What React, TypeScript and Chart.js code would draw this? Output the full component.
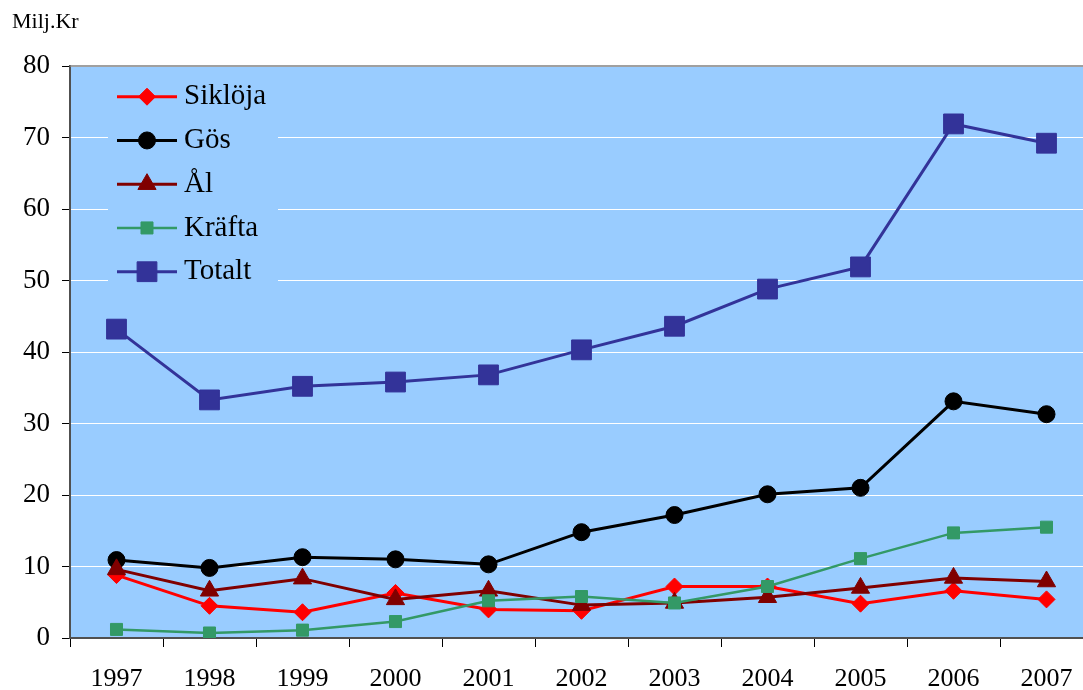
import React, { useEffect, useRef } from 'react';
import { Chart, registerables } from 'chart.js';
import { drawPoint } from 'chart.js/helpers';

Chart.register(...registerables);

const years = ['1997', '1998', '1999', '2000', '2001', '2002', '2003', '2004', '2005', '2006', '2007'];
const sikloja = [8.8, 4.5, 3.6, 6.3, 4.0, 3.8, 7.2, 7.2, 4.8, 6.6, 5.4];
const gos = [10.9, 9.8, 11.3, 11.0, 10.3, 14.8, 17.2, 20.1, 21.0, 33.1, 31.3];
const al = [9.6, 6.6, 8.3, 5.4, 6.6, 4.6, 4.9, 5.7, 7.0, 8.4, 7.9];
const kraefta = [1.2, 0.7, 1.1, 2.3, 5.2, 5.8, 4.9, 7.2, 11.1, 14.7, 15.5];
const totalt = [43.2, 33.3, 35.2, 35.8, 36.8, 40.3, 43.6, 48.8, 51.9, 71.9, 69.2];
const yMin = 0;
const yMax = 80;
const yStep = 10;
const yUnit = 'Milj.Kr';

const FONT = "'Liberation Serif', 'Times New Roman', serif";
const PLOT_BG = '#99CCFF';
const AXIS = '#505050';

const customPlugin = {
  id: 'customDecor',
  beforeDraw(chart: any) {
    const { ctx, chartArea } = chart;
    ctx.save();
    ctx.fillStyle = PLOT_BG;
    ctx.fillRect(chartArea.left, chartArea.top, chartArea.right - chartArea.left, chartArea.bottom - chartArea.top);
    ctx.restore();
  },
  afterDraw(chart: any) {
    const { ctx, chartArea } = chart;
    ctx.save();
    ctx.strokeStyle = '#808080';
    ctx.lineWidth = 1.5;
    ctx.beginPath();
    ctx.moveTo(chartArea.left, chartArea.top);
    ctx.lineTo(chartArea.right, chartArea.top);
    ctx.stroke();

    ctx.fillStyle = '#000';
    ctx.font = `22px ${FONT}`;
    ctx.textAlign = 'left';
    ctx.textBaseline = 'alphabetic';
    ctx.fillText(yUnit, 12, 28);

    ctx.fillStyle = PLOT_BG;
    ctx.fillRect(108, 74, 170, 218);
    const order = [...chart.data.datasets].sort((a: any, b: any) => b.order - a.order);
    order.forEach((ds: any, i: number) => {
      const y = 96.7 + i * 43.75;
      ctx.strokeStyle = ds.borderColor;
      ctx.lineWidth = ds.borderWidth;
      ctx.beginPath();
      ctx.moveTo(117, y);
      ctx.lineTo(177, y);
      ctx.stroke();
      ctx.fillStyle = ds.pointBackgroundColor;
      ctx.strokeStyle = ds.pointBorderColor;
      ctx.lineWidth = ds.pointBorderWidth;
      drawPoint(ctx, { pointStyle: ds.pointStyle, rotation: 0, radius: ds.pointRadius, borderWidth: ds.pointBorderWidth }, 147, y);
      ctx.fillStyle = '#000';
      ctx.font = `29px ${FONT}`;
      ctx.textAlign = 'left';
      ctx.textBaseline = 'middle';
      ctx.fillText(ds.label, 184, y);
    });
    ctx.restore();
  },
};

function mk(label: string, data: number[], color: string, style: string, radius: number, width: number, order: number) {
  return {
    label,
    data,
    borderColor: color,
    backgroundColor: color,
    pointBackgroundColor: color,
    pointBorderColor: color,
    pointBorderWidth: 1,
    pointStyle: style,
    pointRadius: radius,
    borderWidth: width,
    tension: 0,
    order,
  };
}

export default function App() {
  const ref = useRef<HTMLCanvasElement>(null);
  useEffect(() => {
    document.documentElement.style.overflow = 'hidden';
    document.body.style.overflow = 'hidden';
    document.body.style.margin = '0';
    const chart = new Chart(ref.current as HTMLCanvasElement, {
      type: 'line',
      data: {
        labels: years,
        datasets: [
          mk('Siklöja', sikloja, '#FF0000', 'rectRot', 8.5, 3, 4),
          mk('Gös', gos, '#000000', 'circle', 8.5, 3, 3),
          mk('Ål', al, '#800000', 'triangle', 10.5, 3, 2),
          mk('Kräfta', kraefta, '#339966', 'rect', 8.5, 2.5, 1),
          mk('Totalt', totalt, '#333399', 'rect', 14, 3, 0),
        ],
      },
      options: {
        responsive: false,
        animation: false,
        layout: { padding: { top: 66, right: 17, left: 0, bottom: 0 } },
        plugins: { legend: { display: false }, tooltip: { enabled: false }, title: { display: false } },
        scales: {
          x: {
            type: 'category',
            offset: true,
            grid: { display: true, offset: true, drawOnChartArea: false, drawTicks: true, tickLength: 9, color: '#000', lineWidth: 1 },
            border: { display: true, color: AXIS, width: 2 },
            ticks: { font: { family: FONT, size: 26 }, color: '#000', padding: 17, maxRotation: 0, autoSkip: false },
            afterFit: (s: any) => { s.height = 52; },
          },
          y: {
            min: yMin,
            max: yMax,
            ticks: { stepSize: yStep, font: { family: FONT, size: 27 }, color: '#000', padding: 12 },
            grid: { color: '#FFFFFF', lineWidth: 1, tickColor: '#000', tickWidth: 1, tickLength: 8, drawTicks: true },
            border: { display: true, color: AXIS, width: 2 },
            afterFit: (s: any) => { s.width = 70; },
          },
        },
      } as any,
      plugins: [customPlugin],
    });
    return () => chart.destroy();
  }, []);
  return (
    <div style={{ width: 1083, height: 690, overflow: 'hidden' }}>
      <canvas ref={ref} width={1110} height={690} style={{ width: 1110, height: 690, display: 'block' }} />
    </div>
  );
}
